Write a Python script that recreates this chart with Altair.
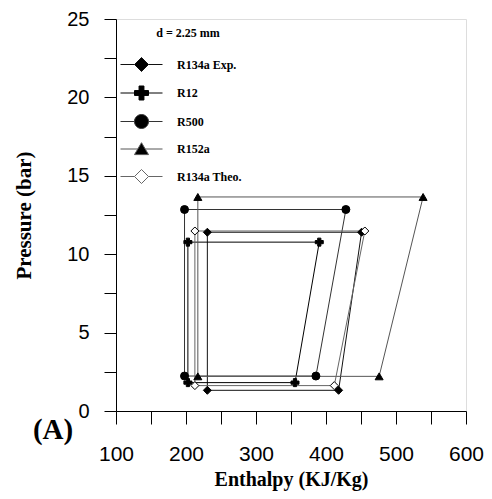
import altair as alt
import pandas as pd

# ---- data (P-h cycles) ----
series = ["R134a Exp.", "R12", "R500", "R152a", "R134a Theo."]
h_suction = [418.0, 355.7, 385.6, 475.9, 411.8]     # state 1 (low P, evaporator exit)
h_discharge = [450.8, 390.4, 428.4, 538.7, 455.5]   # state 2 (high P, compressor exit)
h_liquid = [230.5, 202.7, 197.9, 216.9, 212.7]      # states 3/4 (condenser exit / expansion)
p_low = [1.32, 1.81, 2.23, 2.21, 1.62]
p_high = [11.40, 10.77, 12.85, 13.65, 11.48]

# ---- styles ----
line_colors = ["#111111", "#000000", "#333333", "#555555", "#666666"]
marker_shapes = ["diamond", "cross", "circle", "triangle-up", "diamond"]
marker_fills = ["black", "black", "black", "black", "white"]

seg = "M-3,0L-1,0M1,0L3,0"
legend_paths = [
    seg + "M0,-1L1,0L0,1L-1,0Z",
    seg + "M-0.35,-1L0.35,-1L0.35,-0.35L1,-0.35L1,0.35L0.35,0.35L0.35,1L-0.35,1L-0.35,0.35L-1,0.35L-1,-0.35L-0.35,-0.35Z",
    seg + "M-1,0A1,1,0,1,1,1,0A1,1,0,1,1,-1,0Z",
    "M-3,0L-0.53,0M0.53,0L3,0M0,-0.9L1,0.8L-1,0.8Z",
    seg + "M0,-1L1,0L0,1L-1,0Z",
]

rows = []
for i, s in enumerate(series):
    pts = [
        (h_liquid[i], p_low[i]),
        (h_suction[i], p_low[i]),
        (h_discharge[i], p_high[i]),
        (h_liquid[i], p_high[i]),
        (h_liquid[i], p_low[i]),
    ]
    for k, (h, p) in enumerate(pts):
        rows.append({"series": s, "idx": k, "h": h, "P": p})
df = pd.DataFrame(rows)

W, H = 350, 392
LAB = "Liberation Sans"
SER = "Liberation Serif"

x_enc = alt.X(
    "h:Q",
    scale=alt.Scale(domain=[100, 600], nice=False, zero=False),
    axis=alt.Axis(
        values=list(range(100, 601, 50)),
        labelExpr="datum.value % 100 == 0 ? datum.label : ''",
        tickSize=13, labelFontSize=21, labelFont=LAB, labelColor="black",
        labelPadding=19, labelFlush=False, labelOverlap=False,
        title="Enthalpy (KJ/Kg)", titleFont=SER, titleFontSize=20,
        titleFontWeight="bold", titleColor="black", titlePadding=5,
        grid=False, domainColor="black", tickColor="black",
    ),
)
y_enc = alt.Y(
    "P:Q",
    scale=alt.Scale(domain=[0, 25], nice=False),
    axis=alt.Axis(
        values=[v * 2.5 for v in range(11)],
        labelExpr="datum.value % 5 == 0 ? datum.label : ''",
        tickSize=12, labelFontSize=20, labelFont=LAB, labelColor="black",
        labelPadding=15, labelFlush=False, labelOverlap=False,
        title="Pressure (bar)", titleFont=SER, titleFontSize=21,
        titleFontWeight="bold", titleColor="black", titlePadding=32,
        grid=False, domainColor="black", tickColor="black",
    ),
)

layers = []
for i, s in enumerate(series):
    layers.append(
        alt.Chart(df).transform_filter(alt.datum.series == s)
        .mark_line(color=line_colors[i], strokeWidth=1)
        .encode(x=x_enc, y=y_enc, order="idx:Q")
    )
for i, s in enumerate(series):
    layers.append(
        alt.Chart(df).transform_filter((alt.datum.series == s) & (alt.datum.idx < 4))
        .mark_point(shape=marker_shapes[i], filled=True, fill=marker_fills[i],
                    stroke="black", strokeWidth=1, size=64, opacity=1)
        .encode(x=x_enc, y=y_enc)
    )

leg = alt.Legend(
    title="d = 2.25 mm", orient="none", legendX=18, legendY=9,
    titleFont=SER, titleFontSize=12, titleFontWeight="bold", titleColor="black",
    titleAnchor="middle", titlePadding=17,
    labelFont=SER, labelFontSize=12, labelFontWeight="bold", labelColor="black",
    labelOffset=28, rowPadding=9.5, symbolSize=196, symbolStrokeWidth=1, padding=0,
)
legend_layer = (
    alt.Chart(df).transform_filter("false")
    .mark_point(filled=True, strokeWidth=1, opacity=1)
    .encode(
        x=x_enc, y=y_enc,
        shape=alt.Shape("series:N", scale=alt.Scale(domain=series, range=legend_paths), legend=leg),
        fill=alt.Fill("series:N", scale=alt.Scale(domain=series, range=marker_fills), legend=leg),
        stroke=alt.Stroke("series:N", scale=alt.Scale(domain=series, range=line_colors), legend=leg),
    )
)
layers.append(legend_layer)

label_a = (
    alt.Chart(pd.DataFrame({"label": ["(A)"]}))
    .mark_text(font=SER, fontSize=29, fontWeight="bold", align="center", baseline="middle", color="black")
    .encode(x=alt.value(-63), y=alt.value(411), text="label:N")
)
layers.append(label_a)

chart = (
    alt.layer(*layers)
    .properties(width=W, height=H, autosize=alt.AutoSizeParams(type="none"),
                padding={"left": 108, "top": 11, "right": 18, "bottom": 80})
    .configure_view(stroke="black", strokeWidth=1)
    .configure(background="white")
)

chart.save("out.html", embed_options={"renderer": "svg", "actions": False})
